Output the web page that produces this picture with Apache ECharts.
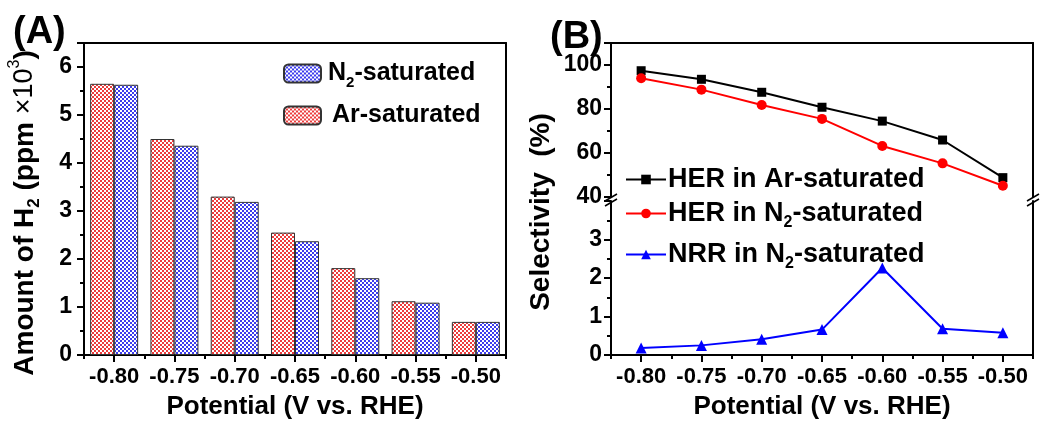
<!DOCTYPE html>
<html>
<head>
<meta charset="utf-8">
<script src="https://cdn.jsdelivr.net/npm/echarts@6/dist/echarts.min.js"></script>
<style>html,body{margin:0;padding:0;background:#fff}#c{width:1040px;height:424px}</style>
</head>
<body>
<div id="c"></div>
<script>
// ---------- data ----------
const potentials = ['-0.80', '-0.75', '-0.70', '-0.65', '-0.60', '-0.55', '-0.50'];
const h2Ar = [5.65, 4.50, 3.30, 2.55, 1.81, 1.12, 0.69];
const h2N2 = [5.63, 4.36, 3.19, 2.37, 1.60, 1.09, 0.69];
const herAr = [97.4, 93.5, 87.6, 80.8, 74.5, 65.9, 48.8];
const herN2 = [94.0, 88.8, 81.8, 75.5, 63.2, 55.3, 45.1];
const nrrN2 = [0.18, 0.25, 0.41, 0.66, 2.26, 0.68, 0.58];

const FONT = '"Liberation Sans", Arial, sans-serif';

function checker(color) {
  const c = document.createElement('canvas');
  c.width = 4; c.height = 4;
  const g = c.getContext('2d');
  g.fillStyle = '#ffffff'; g.fillRect(0, 0, 4, 4);
  g.fillStyle = color;
  g.fillRect(0, 0, 2, 2); g.fillRect(2, 2, 2, 2);
  return c;
}
const redPat = { image: checker('#ec3c3c'), repeat: 'repeat' };
const bluePat = { image: checker('#3c3cec'), repeat: 'repeat' };

const tickLabel = { color: '#000', fontFamily: FONT, fontWeight: 'bold', fontSize: 22 };
const blackLine = { show: true, lineStyle: { color: '#000', width: 2 } };

function catMain(grid) {
  return {
    gridIndex: grid, type: 'category', data: potentials, position: 'bottom',
    axisLine: blackLine,
    axisTick: { show: true, alignWithLabel: true, interval: 0, length: 7, lineStyle: { color: '#000', width: 2 } },
    axisLabel: Object.assign({ margin: 11, interval: 0, hideOverlap: false }, tickLabel),
    splitLine: { show: false }
  };
}
function catMinor(grid) {
  return {
    gridIndex: grid, type: 'category', data: potentials, position: 'bottom',
    axisLine: { show: false },
    axisTick: { show: true, interval: 0, length: 4, lineStyle: { color: '#000', width: 2 } },
    axisLabel: { show: false }, splitLine: { show: false }
  };
}
function catLineOnly(grid, pos) {
  return {
    gridIndex: grid, type: 'category', data: potentials, position: pos,
    axisLine: blackLine, axisTick: { show: false }, axisLabel: { show: false }, splitLine: { show: false }
  };
}
function valLeft(grid, min, max, interval, margin) {
  return {
    gridIndex: grid, type: 'value', position: 'left', min: min, max: max, interval: interval,
    axisLine: blackLine,
    axisTick: { show: true, length: 7, lineStyle: { color: '#000', width: 2 } },
    minorTick: { show: true, splitNumber: 2, length: 4, lineStyle: { color: '#000', width: 2 } },
    axisLabel: Object.assign({ margin: margin, showMaxLabel: false }, tickLabel, { fontSize: 23 }),
    splitLine: { show: false }, minorSplitLine: { show: false }
  };
}
function valRight(grid, min, max) {
  return {
    gridIndex: grid, type: 'value', position: 'right', min: min, max: max,
    axisLine: blackLine, axisTick: { show: false }, axisLabel: { show: false }, splitLine: { show: false }
  };
}

const subRich = {
  m: { fontFamily: FONT, fontWeight: 'bold', fontSize: 25, lineHeight: 34, color: '#000' },
  s: { fontFamily: FONT, fontWeight: 'bold', fontSize: 15, lineHeight: 14, verticalAlign: 'bottom', color: '#000' }
};
const subRichB = {
  m: { fontFamily: FONT, fontWeight: 'bold', fontSize: 27, lineHeight: 34, color: '#000' },
  s: { fontFamily: FONT, fontWeight: 'bold', fontSize: 16, lineHeight: 14, verticalAlign: 'bottom', color: '#000' }
};

function legendFmt(name) {
  if (name.indexOf('N2') >= 0) {
    const parts = name.split('N2');
    return '{m|' + parts[0] + 'N}{s|2}{m|' + parts[1] + '}';
  }
  return '{m|' + name + '}';
}

const chart = echarts.init(document.getElementById('c'), null, { renderer: 'canvas' });

const option = {
  animation: false,
  backgroundColor: '#fff',
  grid: [
    { left: 84, top: 43, width: 422, height: 312 },
    { left: 611, top: 43, width: 422, height: 154 },
    { left: 611, top: 201, width: 422, height: 154 }
  ],
  xAxis: [
    catMain(0), catMinor(0), catLineOnly(0, 'top'),
    Object.assign(catLineOnly(1, 'bottom'), { axisLine: { show: false } }),
    catLineOnly(1, 'top'),
    catMain(2), catMinor(2)
  ],
  yAxis: [
    valLeft(0, 0, 6.5, 1, 12), valRight(0, 0, 6.5),
    valLeft(1, 40, 110, 20, 9), valRight(1, 40, 110),
    valLeft(2, 0, 4, 1, 9), valRight(2, 0, 4)
  ],
  legend: [
    {
      data: ['N2-saturated'], left: 278, top: 56, orient: 'vertical',
      itemWidth: 37, itemHeight: 18, itemGap: 8, formatter: legendFmt,
      textStyle: { rich: subRich, padding: [0, 0, 0, 2] }
    },
    {
      data: ['Ar-saturated'], left: 278, top: 98, orient: 'vertical',
      itemWidth: 37, itemHeight: 18, itemGap: 8, formatter: legendFmt,
      textStyle: { rich: subRich, padding: [0, 0, 0, 6] }
    },
    {
      data: ['HER in Ar-saturated'], left: 620, top: 161, itemWidth: 40, itemHeight: 12,
      formatter: legendFmt, textStyle: { rich: subRichB, padding: [0, 0, 0, -3] }
    },
    {
      data: ['HER in N2-saturated'], left: 620, top: 195, itemWidth: 40, itemHeight: 12,
      formatter: legendFmt, textStyle: { rich: subRichB, padding: [0, 0, 0, -3] }
    },
    {
      data: ['NRR in N2-saturated'], left: 620, top: 236, itemWidth: 40, itemHeight: 12,
      formatter: legendFmt, textStyle: { rich: subRichB, padding: [0, 0, 0, -3] }
    }
  ],
  series: [
    {
      name: 'Ar-saturated', type: 'bar', xAxisIndex: 0, yAxisIndex: 0, data: h2Ar,
      barWidth: 24, barGap: '0%',
      itemStyle: { color: redPat, borderColor: '#333', borderWidth: 1 }
    },
    {
      name: 'N2-saturated', type: 'bar', xAxisIndex: 0, yAxisIndex: 0, data: h2N2,
      barWidth: 24, barGap: '0%',
      itemStyle: { color: bluePat, borderColor: '#333', borderWidth: 1 }
    },
    {
      name: 'HER in Ar-saturated', type: 'line', xAxisIndex: 3, yAxisIndex: 2, data: herAr,
      symbol: 'rect', symbolSize: 9,
      lineStyle: { color: '#000', width: 2 }, itemStyle: { color: '#000' }
    },
    {
      name: 'HER in N2-saturated', type: 'line', xAxisIndex: 3, yAxisIndex: 2, data: herN2,
      symbol: 'circle', symbolSize: 10,
      lineStyle: { color: '#ff0000', width: 2 }, itemStyle: { color: '#ff0000' }
    },
    {
      name: 'NRR in N2-saturated', type: 'line', xAxisIndex: 5, yAxisIndex: 4, data: nrrN2,
      symbol: 'triangle', symbolSize: 11,
      lineStyle: { color: '#0000ff', width: 2 }, itemStyle: { color: '#0000ff' }
    }
  ],
  graphic: [
    { type: 'text', left: 13, top: 14, style: { text: '(A)', font: 'bold 38px ' + FONT, fill: '#000' } },
    { type: 'text', left: 550, top: 19, style: { text: '(B)', font: 'bold 38px ' + FONT, fill: '#000' } },
    {
      type: 'text', x: 25, y: 213, rotation: Math.PI / 2,
      style: {
        text: '{m|Amount of H}{s|2}{m| (ppm }{r|×10}{p|3}{m|)}',
        align: 'center', verticalAlign: 'middle',
        rich: {
          m: { fontFamily: FONT, fontWeight: 'bold', fontSize: 28, lineHeight: 36, fill: '#000' },
          s: { fontFamily: FONT, fontWeight: 'bold', fontSize: 17, lineHeight: 16, verticalAlign: 'bottom', fill: '#000' },
          r: { fontFamily: FONT, fontWeight: 'normal', fontSize: 27, lineHeight: 36, fill: '#000' },
          p: { fontFamily: FONT, fontWeight: 'normal', fontSize: 16, lineHeight: 16, verticalAlign: 'top', fill: '#000' }
        }
      }
    },
    {
      type: 'text', x: 541, y: 212, rotation: Math.PI / 2,
      style: { text: 'Selectivity  (%)', font: 'bold 28px ' + FONT, fill: '#000', align: 'center', verticalAlign: 'middle' }
    },
    {
      type: 'text', x: 295, y: 407,
      style: { text: 'Potential (V vs. RHE)', font: 'bold 26px ' + FONT, fill: '#000', align: 'center', verticalAlign: 'middle' }
    },
    {
      type: 'text', x: 822, y: 407,
      style: { text: 'Potential (V vs. RHE)', font: 'bold 26px ' + FONT, fill: '#000', align: 'center', verticalAlign: 'middle' }
    },
    // axis-break marks
    { type: 'line', shape: { x1: 605, y1: 201, x2: 617, y2: 194 }, style: { stroke: '#000', lineWidth: 1.5 } },
    { type: 'line', shape: { x1: 605, y1: 206, x2: 617, y2: 199 }, style: { stroke: '#000', lineWidth: 1.5 } },
    { type: 'line', shape: { x1: 1027, y1: 201, x2: 1039, y2: 194 }, style: { stroke: '#000', lineWidth: 1.5 } },
    { type: 'line', shape: { x1: 1027, y1: 206, x2: 1039, y2: 199 }, style: { stroke: '#000', lineWidth: 1.5 } }
  ]
};
chart.setOption(option);
</script>
</body>
</html>
